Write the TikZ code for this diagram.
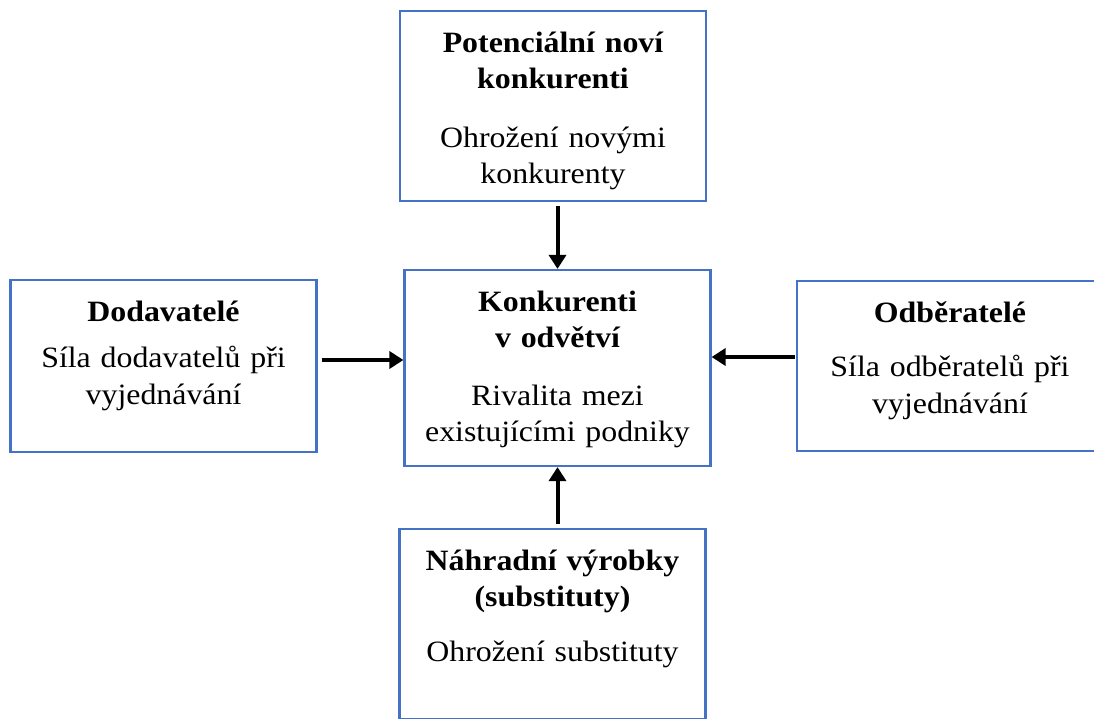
\documentclass[tikz,border=0pt]{standalone}
\usepackage{fontspec}
\setmainfont{Liberation Serif}[FakeStretch=1.08]
\usepackage{xcolor}
\usepackage{tikz}
\usetikzlibrary{arrows.meta,calc}
\definecolor{porterBlue}{HTML}{4472C4}
\tikzset{
  force/.style={draw=porterBlue,line width=2.2pt,text width=296pt,align=center,
    inner xsep=5pt,inner ysep=0pt,text height=41pt,
    font=\fontsize{29.5}{36.5}\selectfont},
  arrow/.style={-{Triangle[length=14pt,width=17pt]},line width=4pt,draw=black}
}

\begin{document}
\begin{tikzpicture}[x=1pt,y=-1pt]
      \useasboundingbox (0,0) rectangle (1094,718);

      \node[force, text depth=149pt] (pot) at (553,106)
        {\bfseries Potenciální noví\\konkurenti\\[22pt]\mdseries Ohrožení novými\\konkurenty};
      \node[force, text depth=155pt] (kon) at (557.5,368)
        {\bfseries Konkurenti\\v odvětví\\[21pt]\mdseries Rivalita mezi\\existujícími podniky};
      \node[force, text depth=131pt] (dod) at (163.5,366)
        {\bfseries Dodavatelé\\[10pt]\mdseries Síla dodavatelů při\\vyjednávání};
      \node[force, text depth=129pt] (odb) at (950,366)
        {\bfseries Odběratelé\\[18pt]\mdseries Síla odběratelů při\\vyjednávání};
      \node[force, text depth=149pt] (nah) at (552.5,624)
        {\bfseries Náhradní výrobky\\(substituty)\\[18pt]\mdseries Ohrožení substituty};

      \draw[arrow, shorten <=4pt] (pot.south -| kon.north) -- (kon.north);
      \draw[arrow, shorten <=4pt] ([yshift=6pt]dod.east) -- ([yshift=6pt]dod.east -| kon.west);
      \draw[arrow, shorten <=1pt] ([yshift=9pt]odb.west) -- ([yshift=9pt]odb.west -| kon.east);
      \draw[arrow, shorten <=4pt] (nah.north -| kon.south) -- (kon.south);
    \end{tikzpicture}
\end{document}
